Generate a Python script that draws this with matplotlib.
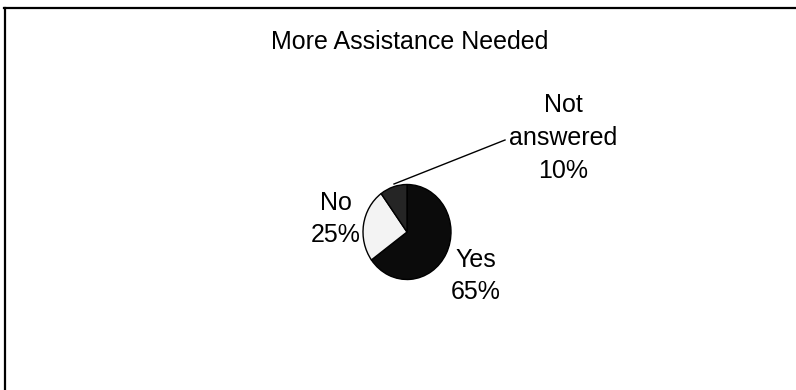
import matplotlib.pyplot as plt
from matplotlib.lines import Line2D

plt.rcParams['font.family'] = ['Liberation Sans', 'DejaVu Sans']

# survey answers
labels = ["Yes", "No", "Not\nanswered"]
shares = [65, 25, 10]
colors = ["#0b0b0b", "#f3f3f3", "#252525"]

W, H = 796, 390
fig = plt.figure(figsize=(W / 100, H / 100), dpi=100)

def fx(px):
    return px / W

def fy(py):
    return 1 - py / H

# frame lines (top and left)
fig.add_artist(Line2D([fx(4), fx(796)], [fy(8), fy(8)], color="black", lw=1.6))
fig.add_artist(Line2D([fx(5), fx(5)], [fy(8), fy(390)], color="black", lw=1.6))

fig.text(fx(410), fy(42), "More Assistance Needed", ha="center", va="center", fontsize=18)

# pie, slightly taller than wide
cx, cy, rx, ry = 407, 232, 44, 47.5
ax = fig.add_axes([fx(cx - rx), fy(cy + ry), rx * 2 / W, ry * 2 / H])
wedges, _ = ax.pie(shares, colors=colors, startangle=90, counterclock=False,
                   wedgeprops=dict(edgecolor="black", linewidth=1.0))
ax.set_aspect("auto")
ax.set_xlim(-1, 1)
ax.set_ylim(-1, 1)
ax.axis("off")

# data labels
pos = [(476, 276), (336, 219), (563, 138)]
for lab, val, (px, py) in zip(labels, shares, pos):
    fig.text(fx(px), fy(py), f"{lab}\n{val}%", ha="center", va="center",
             fontsize=18, linespacing=1.45)

# leader line for the small slice
fig.add_artist(Line2D([fx(394), fx(505)], [fy(184), fy(140)], color="black", lw=1.0))

fig.savefig("out.png", dpi=100)
